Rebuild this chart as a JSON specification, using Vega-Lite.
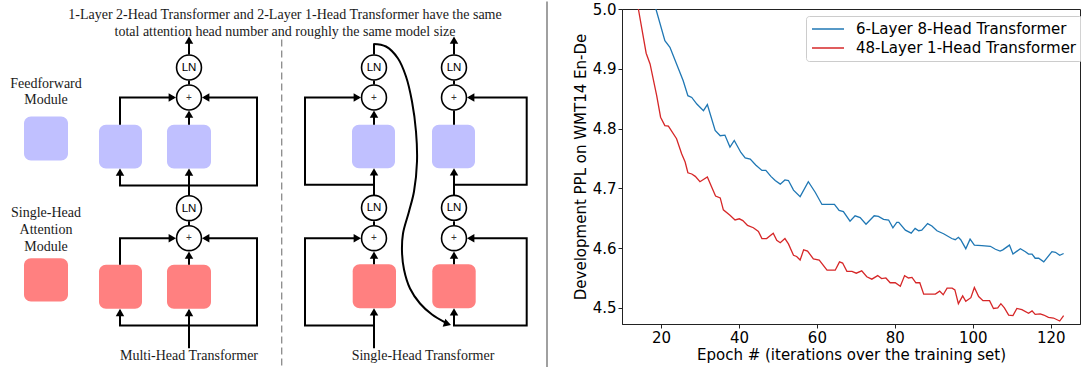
{
  "$schema": "https://vega.github.io/schema/vega-lite/v6.json",
  "padding": 0,
  "spacing": 24,
  "config": {"font": "DejaVu Sans"},
  "resolve": {"scale": {"x": "independent", "y": "independent", "color": "independent"}},
  "hconcat": [
    {
      "width": 548,
      "height": 367,
      "view": {"stroke": null},
      "layer": [
        {
          "data": {"values": [{"x": 281.7, "y": 38, "ye": 367}]},
          "mark": {"type": "rule", "color": "#8a8a8a", "strokeWidth": 1.3, "strokeDash": [7, 4]},
          "encoding": {
            "x": {"field": "x", "type": "quantitative", "scale": {"domain": [0, 548], "nice": false, "zero": false}, "axis": null},
            "y": {"field": "y", "type": "quantitative", "scale": {"domain": [7.5, 374.5], "nice": false, "zero": false, "reverse": true}, "axis": null},
            "y2": {"field": "ye"}
          }
        },
        {
          "data": {"values": [{"x": 547, "y": 0, "ye": 367}]},
          "mark": {"type": "rule", "color": "#a0a0a0", "strokeWidth": 2},
          "encoding": {
            "x": {"field": "x", "type": "quantitative", "axis": null},
            "y": {"field": "y", "type": "quantitative", "axis": null},
            "y2": {"field": "ye"}
          }
        },
        {
          "data": {"values": [
            {"kind": "ff", "x": 24, "xe": 68, "y": 115, "ye": 159},
            {"kind": "ff", "x": 99, "xe": 142, "y": 123.3, "ye": 167},
            {"kind": "ff", "x": 167, "xe": 211, "y": 123.3, "ye": 167},
            {"kind": "ff", "x": 352, "xe": 395, "y": 123.3, "ye": 166.7},
            {"kind": "ff", "x": 432, "xe": 475, "y": 123.3, "ye": 166.7},
            {"kind": "att", "x": 24, "xe": 68, "y": 256.7, "ye": 300},
            {"kind": "att", "x": 99, "xe": 142, "y": 263.3, "ye": 307.3},
            {"kind": "att", "x": 167, "xe": 211, "y": 263.3, "ye": 307.3},
            {"kind": "att", "x": 352.7, "xe": 396, "y": 262.7, "ye": 306.7},
            {"kind": "att", "x": 432.3, "xe": 475.7, "y": 262.7, "ye": 306.7}
          ]},
          "layer": [
            {
              "transform": [{"filter": "datum.kind === 'ff'"}],
              "mark": {"type": "rect", "color": "#c0c0ff", "cornerRadius": 7},
              "encoding": {
                "x": {"field": "x", "type": "quantitative", "axis": null},
                "x2": {"field": "xe"},
                "y": {"field": "y", "type": "quantitative", "axis": null},
                "y2": {"field": "ye"}
              }
            },
            {
              "transform": [{"filter": "datum.kind === 'att'"}],
              "mark": {"type": "rect", "color": "#ff8080", "cornerRadius": 7},
              "encoding": {
                "x": {"field": "x", "type": "quantitative", "axis": null},
                "x2": {"field": "xe"},
                "y": {"field": "y", "type": "quantitative", "axis": null},
                "y2": {"field": "ye"}
              }
            }
          ]
        },
        {
          "data": {"values": [
            {"p": "p1", "s": 0, "x": 189, "y": 53}, {"p": "p1", "s": 1, "x": 189, "y": 37},
            {"p": "p2", "s": 0, "x": 189, "y": 83}, {"p": "p2", "s": 1, "x": 189, "y": 79},
            {"p": "p3", "s": 0, "x": 189, "y": 123.3}, {"p": "p3", "s": 1, "x": 189, "y": 111},
            {"p": "p4", "s": 0, "x": 120, "y": 123.3}, {"p": "p4", "s": 1, "x": 120, "y": 96}, {"p": "p4", "s": 2, "x": 174, "y": 96},
            {"p": "p5", "s": 0, "x": 204, "y": 96}, {"p": "p5", "s": 1, "x": 257, "y": 96}, {"p": "p5", "s": 2, "x": 257, "y": 184}, {"p": "p5", "s": 3, "x": 120, "y": 184}, {"p": "p5", "s": 4, "x": 120, "y": 169},
            {"p": "p6", "s": 0, "x": 189, "y": 193.7}, {"p": "p6", "s": 1, "x": 189, "y": 169},
            {"p": "p7", "s": 0, "x": 189, "y": 223.7}, {"p": "p7", "s": 1, "x": 189, "y": 219.7},
            {"p": "p8", "s": 0, "x": 189, "y": 263.3}, {"p": "p8", "s": 1, "x": 189, "y": 252},
            {"p": "p9", "s": 0, "x": 120, "y": 263.3}, {"p": "p9", "s": 1, "x": 120, "y": 236.7}, {"p": "p9", "s": 2, "x": 174, "y": 236.7},
            {"p": "p10", "s": 0, "x": 204, "y": 236.7}, {"p": "p10", "s": 1, "x": 257, "y": 236.7}, {"p": "p10", "s": 2, "x": 257, "y": 324}, {"p": "p10", "s": 3, "x": 120, "y": 324}, {"p": "p10", "s": 4, "x": 120, "y": 309},
            {"p": "p11", "s": 0, "x": 189, "y": 346.7}, {"p": "p11", "s": 1, "x": 189, "y": 309},
            {"p": "q1", "s": 0, "x": 374, "y": 53}, {"p": "q1", "s": 1, "x": 374, "y": 42.5},
            {"p": "q2", "s": 0, "x": 374, "y": 83}, {"p": "q2", "s": 1, "x": 374, "y": 79},
            {"p": "q3", "s": 0, "x": 374, "y": 123.3}, {"p": "q3", "s": 1, "x": 374, "y": 111},
            {"p": "q4", "s": 0, "x": 374, "y": 193.7}, {"p": "q4", "s": 1, "x": 374, "y": 169},
            {"p": "q5", "s": 0, "x": 374, "y": 183.3}, {"p": "q5", "s": 1, "x": 305, "y": 183.3}, {"p": "q5", "s": 2, "x": 305, "y": 96}, {"p": "q5", "s": 3, "x": 359, "y": 96},
            {"p": "q6", "s": 0, "x": 374, "y": 223.7}, {"p": "q6", "s": 1, "x": 374, "y": 219.7},
            {"p": "q7", "s": 0, "x": 374, "y": 262.7}, {"p": "q7", "s": 1, "x": 374, "y": 252},
            {"p": "q8", "s": 0, "x": 374, "y": 346.7}, {"p": "q8", "s": 1, "x": 374, "y": 309},
            {"p": "q9", "s": 0, "x": 374, "y": 324}, {"p": "q9", "s": 1, "x": 305, "y": 324}, {"p": "q9", "s": 2, "x": 305, "y": 236.7}, {"p": "q9", "s": 3, "x": 359, "y": 236.7},
            {"p": "r1", "s": 0, "x": 454, "y": 53}, {"p": "r1", "s": 1, "x": 454, "y": 37},
            {"p": "r2", "s": 0, "x": 454, "y": 83}, {"p": "r2", "s": 1, "x": 454, "y": 79},
            {"p": "r3", "s": 0, "x": 454, "y": 123.3}, {"p": "r3", "s": 1, "x": 454, "y": 109},
            {"p": "r4", "s": 0, "x": 454, "y": 193.7}, {"p": "r4", "s": 1, "x": 454, "y": 169},
            {"p": "r5", "s": 0, "x": 454, "y": 183.3}, {"p": "r5", "s": 1, "x": 526.7, "y": 183.3}, {"p": "r5", "s": 2, "x": 526.7, "y": 96}, {"p": "r5", "s": 3, "x": 469, "y": 96},
            {"p": "r6", "s": 0, "x": 454, "y": 223.7}, {"p": "r6", "s": 1, "x": 454, "y": 219.7},
            {"p": "r7", "s": 0, "x": 454, "y": 262.7}, {"p": "r7", "s": 1, "x": 454, "y": 252},
            {"p": "r8", "s": 0, "x": 454, "y": 324}, {"p": "r8", "s": 1, "x": 454, "y": 309},
            {"p": "r9", "s": 0, "x": 453, "y": 324}, {"p": "r9", "s": 1, "x": 526.7, "y": 324}, {"p": "r9", "s": 2, "x": 526.7, "y": 236.7}, {"p": "r9", "s": 3, "x": 469, "y": 236.7}
          ]},
          "mark": {"type": "line", "color": "#000", "strokeWidth": 2, "strokeJoin": "miter", "strokeCap": "butt"},
          "encoding": {
            "x": {"field": "x", "type": "quantitative", "axis": null},
            "y": {"field": "y", "type": "quantitative", "axis": null},
            "detail": {"field": "p"},
            "order": {"field": "s"}
          }
        },
        {
          "data": {"values": [
            {"s": 0, "x": 373.3, "y": 42.5}, {"s": 1, "x": 386, "y": 45}, {"s": 2, "x": 398, "y": 57},
            {"s": 3, "x": 406, "y": 75}, {"s": 4, "x": 412, "y": 100}, {"s": 5, "x": 416, "y": 130},
            {"s": 6, "x": 417, "y": 160}, {"s": 7, "x": 414, "y": 190}, {"s": 8, "x": 409, "y": 210},
            {"s": 9, "x": 403, "y": 232}, {"s": 10, "x": 402, "y": 250}, {"s": 11, "x": 404, "y": 268},
            {"s": 12, "x": 410, "y": 287}, {"s": 13, "x": 420, "y": 302}, {"s": 14, "x": 432, "y": 313},
            {"s": 15, "x": 445, "y": 320.8}
          ]},
          "mark": {"type": "line", "color": "#000", "strokeWidth": 2, "interpolate": "catmull-rom"},
          "encoding": {
            "x": {"field": "x", "type": "quantitative", "axis": null},
            "y": {"field": "y", "type": "quantitative", "axis": null},
            "order": {"field": "s"}
          }
        },
        {
          "data": {"values": [
            {"dir": "up", "x": 189, "y": 35}, {"dir": "up", "x": 189, "y": 109}, {"dir": "up", "x": 120, "y": 167},
            {"dir": "up", "x": 189, "y": 167}, {"dir": "up", "x": 189, "y": 250}, {"dir": "up", "x": 120, "y": 307.3},
            {"dir": "up", "x": 189, "y": 307.3}, {"dir": "up", "x": 374, "y": 109}, {"dir": "up", "x": 374, "y": 166.7},
            {"dir": "up", "x": 374, "y": 250}, {"dir": "up", "x": 374, "y": 306.7}, {"dir": "up", "x": 454, "y": 35},
            {"dir": "up", "x": 454, "y": 166.7}, {"dir": "up", "x": 454, "y": 250}, {"dir": "up", "x": 454, "y": 306.7},
            {"dir": "right", "x": 176, "y": 96}, {"dir": "right", "x": 176, "y": 236.7},
            {"dir": "right", "x": 361, "y": 96}, {"dir": "right", "x": 361, "y": 236.7},
            {"dir": "left", "x": 202, "y": 96}, {"dir": "left", "x": 202, "y": 236.7},
            {"dir": "left", "x": 467, "y": 96}, {"dir": "left", "x": 467, "y": 236.7},
            {"dir": "curve", "x": 451, "y": 323.5}
          ]},
          "layer": [
            {
              "transform": [{"filter": "datum.dir === 'up'"}],
              "mark": {"type": "point", "shape": "triangle-up", "size": 72, "filled": true, "color": "#000", "opacity": 1, "yOffset": 3.7},
              "encoding": {"x": {"field": "x", "type": "quantitative", "axis": null}, "y": {"field": "y", "type": "quantitative", "axis": null}}
            },
            {
              "transform": [{"filter": "datum.dir === 'right'"}],
              "mark": {"type": "point", "shape": "triangle-right", "size": 72, "filled": true, "color": "#000", "opacity": 1, "xOffset": -3.7},
              "encoding": {"x": {"field": "x", "type": "quantitative", "axis": null}, "y": {"field": "y", "type": "quantitative", "axis": null}}
            },
            {
              "transform": [{"filter": "datum.dir === 'left'"}],
              "mark": {"type": "point", "shape": "triangle-left", "size": 72, "filled": true, "color": "#000", "opacity": 1, "xOffset": 3.7},
              "encoding": {"x": {"field": "x", "type": "quantitative", "axis": null}, "y": {"field": "y", "type": "quantitative", "axis": null}}
            },
            {
              "transform": [{"filter": "datum.dir === 'curve'"}],
              "mark": {"type": "point", "shape": "triangle-right", "size": 72, "filled": true, "color": "#000", "opacity": 1, "angle": 18, "xOffset": -3.5, "yOffset": -1.1},
              "encoding": {"x": {"field": "x", "type": "quantitative", "axis": null}, "y": {"field": "y", "type": "quantitative", "axis": null}}
            }
          ]
        },
        {
          "data": {"values": [
            {"t": "LN", "x": 189, "y": 66}, {"t": "+", "x": 189, "y": 96}, {"t": "LN", "x": 189, "y": 206.7}, {"t": "+", "x": 189, "y": 236.7},
            {"t": "LN", "x": 374, "y": 66}, {"t": "+", "x": 374, "y": 96}, {"t": "LN", "x": 374, "y": 206.3}, {"t": "+", "x": 374, "y": 236.7},
            {"t": "LN", "x": 454, "y": 66}, {"t": "+", "x": 454, "y": 96}, {"t": "LN", "x": 454, "y": 206.3}, {"t": "+", "x": 454, "y": 236.7}
          ]},
          "layer": [
            {
              "mark": {"type": "point", "shape": "circle", "size": 620, "filled": true, "fill": "#fff", "stroke": "#000", "strokeWidth": 1.6, "opacity": 1},
              "encoding": {"x": {"field": "x", "type": "quantitative", "axis": null}, "y": {"field": "y", "type": "quantitative", "axis": null}}
            },
            {
              "transform": [{"filter": "datum.t === 'LN'"}],
              "mark": {"type": "text", "font": "Liberation Sans", "fontSize": 11.5, "color": "#000", "align": "center", "baseline": "middle", "dy": 0.5},
              "encoding": {"x": {"field": "x", "type": "quantitative", "axis": null}, "y": {"field": "y", "type": "quantitative", "axis": null}, "text": {"field": "t"}}
            },
            {
              "transform": [{"filter": "datum.t === '+'"}],
              "mark": {"type": "text", "font": "Liberation Sans", "fontSize": 10, "color": "#333", "align": "center", "baseline": "middle"},
              "encoding": {"x": {"field": "x", "type": "quantitative", "axis": null}, "y": {"field": "y", "type": "quantitative", "axis": null}, "text": {"field": "t"}}
            }
          ]
        },
        {
          "data": {"values": [
            {"t": "1-Layer 2-Head Transformer and 2-Layer 1-Head Transformer have the same", "x": 285, "y": 17.5},
            {"t": "total attention head number and roughly the same model size", "x": 285, "y": 34.3},
            {"t": "Feedforward", "x": 46, "y": 86},
            {"t": "Module", "x": 46, "y": 102},
            {"t": "Single-Head", "x": 46, "y": 215},
            {"t": "Attention", "x": 46, "y": 232.5},
            {"t": "Module", "x": 46, "y": 249},
            {"t": "Multi-Head Transformer", "x": 189, "y": 358},
            {"t": "Single-Head Transformer", "x": 423, "y": 358}
          ]},
          "mark": {"type": "text", "font": "Liberation Serif", "fontSize": 14, "color": "#1a1a1a", "align": "center", "baseline": "alphabetic"},
          "encoding": {
            "x": {"field": "x", "type": "quantitative", "axis": null},
            "y": {"field": "y", "type": "quantitative", "axis": null},
            "text": {"field": "t"}
          }
        }
      ]
    },
    {
      "width": 458,
      "height": 315,
      "view": {"stroke": "#222", "strokeWidth": 1},
      "data": {"values": [
        {"model": "6-Layer 8-Head Transformer", "epoch": 17, "ppl": 5.04},
        {"model": "6-Layer 8-Head Transformer", "epoch": 18.7, "ppl": 5.0},
        {"model": "6-Layer 8-Head Transformer", "epoch": 21.0, "ppl": 4.947},
        {"model": "6-Layer 8-Head Transformer", "epoch": 22.3, "ppl": 4.936},
        {"model": "6-Layer 8-Head Transformer", "epoch": 25.7, "ppl": 4.88},
        {"model": "6-Layer 8-Head Transformer", "epoch": 26.9, "ppl": 4.855},
        {"model": "6-Layer 8-Head Transformer", "epoch": 27.9, "ppl": 4.852},
        {"model": "6-Layer 8-Head Transformer", "epoch": 29.2, "ppl": 4.841},
        {"model": "6-Layer 8-Head Transformer", "epoch": 30.9, "ppl": 4.83},
        {"model": "6-Layer 8-Head Transformer", "epoch": 31.9, "ppl": 4.84},
        {"model": "6-Layer 8-Head Transformer", "epoch": 33.9, "ppl": 4.797},
        {"model": "6-Layer 8-Head Transformer", "epoch": 35.2, "ppl": 4.788},
        {"model": "6-Layer 8-Head Transformer", "epoch": 36.4, "ppl": 4.789},
        {"model": "6-Layer 8-Head Transformer", "epoch": 37.7, "ppl": 4.769},
        {"model": "6-Layer 8-Head Transformer", "epoch": 38.8, "ppl": 4.78},
        {"model": "6-Layer 8-Head Transformer", "epoch": 40.5, "ppl": 4.76},
        {"model": "6-Layer 8-Head Transformer", "epoch": 41.6, "ppl": 4.751},
        {"model": "6-Layer 8-Head Transformer", "epoch": 42.9, "ppl": 4.749},
        {"model": "6-Layer 8-Head Transformer", "epoch": 44.3, "ppl": 4.739},
        {"model": "6-Layer 8-Head Transformer", "epoch": 45.9, "ppl": 4.73},
        {"model": "6-Layer 8-Head Transformer", "epoch": 46.9, "ppl": 4.73},
        {"model": "6-Layer 8-Head Transformer", "epoch": 48.2, "ppl": 4.72},
        {"model": "6-Layer 8-Head Transformer", "epoch": 49.3, "ppl": 4.713},
        {"model": "6-Layer 8-Head Transformer", "epoch": 50.6, "ppl": 4.707},
        {"model": "6-Layer 8-Head Transformer", "epoch": 51.8, "ppl": 4.714},
        {"model": "6-Layer 8-Head Transformer", "epoch": 52.7, "ppl": 4.713},
        {"model": "6-Layer 8-Head Transformer", "epoch": 54.0, "ppl": 4.697},
        {"model": "6-Layer 8-Head Transformer", "epoch": 55.7, "ppl": 4.686},
        {"model": "6-Layer 8-Head Transformer", "epoch": 57.8, "ppl": 4.711},
        {"model": "6-Layer 8-Head Transformer", "epoch": 59.6, "ppl": 4.693},
        {"model": "6-Layer 8-Head Transformer", "epoch": 61.3, "ppl": 4.673},
        {"model": "6-Layer 8-Head Transformer", "epoch": 64.5, "ppl": 4.673},
        {"model": "6-Layer 8-Head Transformer", "epoch": 65.7, "ppl": 4.663},
        {"model": "6-Layer 8-Head Transformer", "epoch": 66.8, "ppl": 4.661},
        {"model": "6-Layer 8-Head Transformer", "epoch": 68.5, "ppl": 4.645},
        {"model": "6-Layer 8-Head Transformer", "epoch": 69.8, "ppl": 4.654},
        {"model": "6-Layer 8-Head Transformer", "epoch": 71.1, "ppl": 4.651},
        {"model": "6-Layer 8-Head Transformer", "epoch": 72.6, "ppl": 4.64},
        {"model": "6-Layer 8-Head Transformer", "epoch": 74.7, "ppl": 4.654},
        {"model": "6-Layer 8-Head Transformer", "epoch": 75.8, "ppl": 4.653},
        {"model": "6-Layer 8-Head Transformer", "epoch": 77.1, "ppl": 4.648},
        {"model": "6-Layer 8-Head Transformer", "epoch": 78.4, "ppl": 4.647},
        {"model": "6-Layer 8-Head Transformer", "epoch": 79.5, "ppl": 4.634},
        {"model": "6-Layer 8-Head Transformer", "epoch": 80.5, "ppl": 4.643},
        {"model": "6-Layer 8-Head Transformer", "epoch": 81.0, "ppl": 4.643},
        {"model": "6-Layer 8-Head Transformer", "epoch": 82.7, "ppl": 4.63},
        {"model": "6-Layer 8-Head Transformer", "epoch": 84.2, "ppl": 4.625},
        {"model": "6-Layer 8-Head Transformer", "epoch": 85.2, "ppl": 4.633},
        {"model": "6-Layer 8-Head Transformer", "epoch": 86.1, "ppl": 4.629},
        {"model": "6-Layer 8-Head Transformer", "epoch": 86.9, "ppl": 4.63},
        {"model": "6-Layer 8-Head Transformer", "epoch": 88.4, "ppl": 4.641},
        {"model": "6-Layer 8-Head Transformer", "epoch": 89.5, "ppl": 4.637},
        {"model": "6-Layer 8-Head Transformer", "epoch": 90.8, "ppl": 4.629},
        {"model": "6-Layer 8-Head Transformer", "epoch": 92.5, "ppl": 4.624},
        {"model": "6-Layer 8-Head Transformer", "epoch": 94.6, "ppl": 4.616},
        {"model": "6-Layer 8-Head Transformer", "epoch": 95.5, "ppl": 4.614},
        {"model": "6-Layer 8-Head Transformer", "epoch": 96.3, "ppl": 4.618},
        {"model": "6-Layer 8-Head Transformer", "epoch": 96.9, "ppl": 4.614},
        {"model": "6-Layer 8-Head Transformer", "epoch": 98.2, "ppl": 4.599},
        {"model": "6-Layer 8-Head Transformer", "epoch": 99.3, "ppl": 4.615},
        {"model": "6-Layer 8-Head Transformer", "epoch": 100.4, "ppl": 4.605},
        {"model": "6-Layer 8-Head Transformer", "epoch": 102.3, "ppl": 4.604},
        {"model": "6-Layer 8-Head Transformer", "epoch": 104.5, "ppl": 4.603},
        {"model": "6-Layer 8-Head Transformer", "epoch": 105.8, "ppl": 4.598},
        {"model": "6-Layer 8-Head Transformer", "epoch": 107.0, "ppl": 4.595},
        {"model": "6-Layer 8-Head Transformer", "epoch": 107.7, "ppl": 4.597},
        {"model": "6-Layer 8-Head Transformer", "epoch": 109.4, "ppl": 4.605},
        {"model": "6-Layer 8-Head Transformer", "epoch": 110.3, "ppl": 4.59},
        {"model": "6-Layer 8-Head Transformer", "epoch": 112.2, "ppl": 4.599},
        {"model": "6-Layer 8-Head Transformer", "epoch": 113.5, "ppl": 4.594},
        {"model": "6-Layer 8-Head Transformer", "epoch": 114.3, "ppl": 4.59},
        {"model": "6-Layer 8-Head Transformer", "epoch": 115.2, "ppl": 4.59},
        {"model": "6-Layer 8-Head Transformer", "epoch": 116.0, "ppl": 4.583},
        {"model": "6-Layer 8-Head Transformer", "epoch": 116.9, "ppl": 4.583},
        {"model": "6-Layer 8-Head Transformer", "epoch": 118.2, "ppl": 4.577},
        {"model": "6-Layer 8-Head Transformer", "epoch": 120.3, "ppl": 4.594},
        {"model": "6-Layer 8-Head Transformer", "epoch": 121.2, "ppl": 4.593},
        {"model": "6-Layer 8-Head Transformer", "epoch": 122.3, "ppl": 4.588},
        {"model": "6-Layer 8-Head Transformer", "epoch": 123.3, "ppl": 4.591},
        {"model": "48-Layer 1-Head Transformer", "epoch": 13, "ppl": 5.045},
        {"model": "48-Layer 1-Head Transformer", "epoch": 14.2, "ppl": 5.0},
        {"model": "48-Layer 1-Head Transformer", "epoch": 16.2, "ppl": 4.926},
        {"model": "48-Layer 1-Head Transformer", "epoch": 17.2, "ppl": 4.908},
        {"model": "48-Layer 1-Head Transformer", "epoch": 18.9, "ppl": 4.855},
        {"model": "48-Layer 1-Head Transformer", "epoch": 19.9, "ppl": 4.819},
        {"model": "48-Layer 1-Head Transformer", "epoch": 21.0, "ppl": 4.805},
        {"model": "48-Layer 1-Head Transformer", "epoch": 21.9, "ppl": 4.804},
        {"model": "48-Layer 1-Head Transformer", "epoch": 24.0, "ppl": 4.783},
        {"model": "48-Layer 1-Head Transformer", "epoch": 25.3, "ppl": 4.758},
        {"model": "48-Layer 1-Head Transformer", "epoch": 26.2, "ppl": 4.744},
        {"model": "48-Layer 1-Head Transformer", "epoch": 26.9, "ppl": 4.726},
        {"model": "48-Layer 1-Head Transformer", "epoch": 27.9, "ppl": 4.724},
        {"model": "48-Layer 1-Head Transformer", "epoch": 28.8, "ppl": 4.72},
        {"model": "48-Layer 1-Head Transformer", "epoch": 30.0, "ppl": 4.711},
        {"model": "48-Layer 1-Head Transformer", "epoch": 31.9, "ppl": 4.719},
        {"model": "48-Layer 1-Head Transformer", "epoch": 33.0, "ppl": 4.702},
        {"model": "48-Layer 1-Head Transformer", "epoch": 34.0, "ppl": 4.687},
        {"model": "48-Layer 1-Head Transformer", "epoch": 35.2, "ppl": 4.684},
        {"model": "48-Layer 1-Head Transformer", "epoch": 36.0, "ppl": 4.664},
        {"model": "48-Layer 1-Head Transformer", "epoch": 37.7, "ppl": 4.655},
        {"model": "48-Layer 1-Head Transformer", "epoch": 39.0, "ppl": 4.647},
        {"model": "48-Layer 1-Head Transformer", "epoch": 40.1, "ppl": 4.649},
        {"model": "48-Layer 1-Head Transformer", "epoch": 41.0, "ppl": 4.646},
        {"model": "48-Layer 1-Head Transformer", "epoch": 42.2, "ppl": 4.638},
        {"model": "48-Layer 1-Head Transformer", "epoch": 43.7, "ppl": 4.634},
        {"model": "48-Layer 1-Head Transformer", "epoch": 45.0, "ppl": 4.628},
        {"model": "48-Layer 1-Head Transformer", "epoch": 45.9, "ppl": 4.616},
        {"model": "48-Layer 1-Head Transformer", "epoch": 47.1, "ppl": 4.616},
        {"model": "48-Layer 1-Head Transformer", "epoch": 48.8, "ppl": 4.625},
        {"model": "48-Layer 1-Head Transformer", "epoch": 49.7, "ppl": 4.613},
        {"model": "48-Layer 1-Head Transformer", "epoch": 50.6, "ppl": 4.609},
        {"model": "48-Layer 1-Head Transformer", "epoch": 51.8, "ppl": 4.616},
        {"model": "48-Layer 1-Head Transformer", "epoch": 52.7, "ppl": 4.607},
        {"model": "48-Layer 1-Head Transformer", "epoch": 54.0, "ppl": 4.588},
        {"model": "48-Layer 1-Head Transformer", "epoch": 54.8, "ppl": 4.586},
        {"model": "48-Layer 1-Head Transformer", "epoch": 55.7, "ppl": 4.58},
        {"model": "48-Layer 1-Head Transformer", "epoch": 56.6, "ppl": 4.597},
        {"model": "48-Layer 1-Head Transformer", "epoch": 57.6, "ppl": 4.595},
        {"model": "48-Layer 1-Head Transformer", "epoch": 59.1, "ppl": 4.582},
        {"model": "48-Layer 1-Head Transformer", "epoch": 60.6, "ppl": 4.58},
        {"model": "48-Layer 1-Head Transformer", "epoch": 62.6, "ppl": 4.563},
        {"model": "48-Layer 1-Head Transformer", "epoch": 64.7, "ppl": 4.563},
        {"model": "48-Layer 1-Head Transformer", "epoch": 65.8, "ppl": 4.577},
        {"model": "48-Layer 1-Head Transformer", "epoch": 66.6, "ppl": 4.575},
        {"model": "48-Layer 1-Head Transformer", "epoch": 67.7, "ppl": 4.561},
        {"model": "48-Layer 1-Head Transformer", "epoch": 69.0, "ppl": 4.561},
        {"model": "48-Layer 1-Head Transformer", "epoch": 70.1, "ppl": 4.558},
        {"model": "48-Layer 1-Head Transformer", "epoch": 71.5, "ppl": 4.562},
        {"model": "48-Layer 1-Head Transformer", "epoch": 72.8, "ppl": 4.552},
        {"model": "48-Layer 1-Head Transformer", "epoch": 74.1, "ppl": 4.548},
        {"model": "48-Layer 1-Head Transformer", "epoch": 75.6, "ppl": 4.554},
        {"model": "48-Layer 1-Head Transformer", "epoch": 76.6, "ppl": 4.549},
        {"model": "48-Layer 1-Head Transformer", "epoch": 77.7, "ppl": 4.55},
        {"model": "48-Layer 1-Head Transformer", "epoch": 78.8, "ppl": 4.542},
        {"model": "48-Layer 1-Head Transformer", "epoch": 80.1, "ppl": 4.542},
        {"model": "48-Layer 1-Head Transformer", "epoch": 81.4, "ppl": 4.536},
        {"model": "48-Layer 1-Head Transformer", "epoch": 82.5, "ppl": 4.554},
        {"model": "48-Layer 1-Head Transformer", "epoch": 83.5, "ppl": 4.55},
        {"model": "48-Layer 1-Head Transformer", "epoch": 84.4, "ppl": 4.551},
        {"model": "48-Layer 1-Head Transformer", "epoch": 85.4, "ppl": 4.542},
        {"model": "48-Layer 1-Head Transformer", "epoch": 86.4, "ppl": 4.542},
        {"model": "48-Layer 1-Head Transformer", "epoch": 87.4, "ppl": 4.523},
        {"model": "48-Layer 1-Head Transformer", "epoch": 88.7, "ppl": 4.523},
        {"model": "48-Layer 1-Head Transformer", "epoch": 90.4, "ppl": 4.523},
        {"model": "48-Layer 1-Head Transformer", "epoch": 91.5, "ppl": 4.528},
        {"model": "48-Layer 1-Head Transformer", "epoch": 92.4, "ppl": 4.522},
        {"model": "48-Layer 1-Head Transformer", "epoch": 93.4, "ppl": 4.533},
        {"model": "48-Layer 1-Head Transformer", "epoch": 94.7, "ppl": 4.533},
        {"model": "48-Layer 1-Head Transformer", "epoch": 95.4, "ppl": 4.53},
        {"model": "48-Layer 1-Head Transformer", "epoch": 96.3, "ppl": 4.507},
        {"model": "48-Layer 1-Head Transformer", "epoch": 97.4, "ppl": 4.52},
        {"model": "48-Layer 1-Head Transformer", "epoch": 98.2, "ppl": 4.511},
        {"model": "48-Layer 1-Head Transformer", "epoch": 99.5, "ppl": 4.517},
        {"model": "48-Layer 1-Head Transformer", "epoch": 100.4, "ppl": 4.534},
        {"model": "48-Layer 1-Head Transformer", "epoch": 101.5, "ppl": 4.519},
        {"model": "48-Layer 1-Head Transformer", "epoch": 102.6, "ppl": 4.512},
        {"model": "48-Layer 1-Head Transformer", "epoch": 104.3, "ppl": 4.512},
        {"model": "48-Layer 1-Head Transformer", "epoch": 105.3, "ppl": 4.499},
        {"model": "48-Layer 1-Head Transformer", "epoch": 106.4, "ppl": 4.5},
        {"model": "48-Layer 1-Head Transformer", "epoch": 107.2, "ppl": 4.507},
        {"model": "48-Layer 1-Head Transformer", "epoch": 108.1, "ppl": 4.5},
        {"model": "48-Layer 1-Head Transformer", "epoch": 109.2, "ppl": 4.488},
        {"model": "48-Layer 1-Head Transformer", "epoch": 110.3, "ppl": 4.487},
        {"model": "48-Layer 1-Head Transformer", "epoch": 111.3, "ppl": 4.499},
        {"model": "48-Layer 1-Head Transformer", "epoch": 112.6, "ppl": 4.497},
        {"model": "48-Layer 1-Head Transformer", "epoch": 114.3, "ppl": 4.491},
        {"model": "48-Layer 1-Head Transformer", "epoch": 115.2, "ppl": 4.495},
        {"model": "48-Layer 1-Head Transformer", "epoch": 116.0, "ppl": 4.489},
        {"model": "48-Layer 1-Head Transformer", "epoch": 117.3, "ppl": 4.49},
        {"model": "48-Layer 1-Head Transformer", "epoch": 118.2, "ppl": 4.488},
        {"model": "48-Layer 1-Head Transformer", "epoch": 119.4, "ppl": 4.484},
        {"model": "48-Layer 1-Head Transformer", "epoch": 120.7, "ppl": 4.483},
        {"model": "48-Layer 1-Head Transformer", "epoch": 122.3, "ppl": 4.478},
        {"model": "48-Layer 1-Head Transformer", "epoch": 123.3, "ppl": 4.487}
      ]},
      "mark": {"type": "line", "strokeWidth": 1.3, "clip": true},
      "encoding": {
        "x": {
          "field": "epoch", "type": "quantitative",
          "scale": {"domain": [10, 127.5], "nice": false, "zero": false},
          "axis": {"values": [20, 40, 60, 80, 100, 120], "title": "Epoch # (iterations over the training set)", "grid": false,
            "labelFont": "DejaVu Sans", "labelFontSize": 15, "labelColor": "#000", "titleFont": "DejaVu Sans", "titleFontSize": 15,
            "titleFontWeight": "normal", "titleColor": "#000", "tickColor": "#222", "domainColor": "#222", "tickSize": 4, "labelPadding": 2, "titlePadding": 2, "labelFlush": false}
        },
        "y": {
          "field": "ppl", "type": "quantitative",
          "scale": {"domain": [4.473, 5.0], "nice": false, "zero": false},
          "axis": {"values": [4.5, 4.6, 4.7, 4.8, 4.9, 5.0], "format": ".1f", "title": "Development PPL on WMT14 En-De", "grid": false,
            "labelFont": "DejaVu Sans", "labelFontSize": 15, "labelColor": "#000", "titleFont": "DejaVu Sans", "titleFontSize": 15,
            "titleFontWeight": "normal", "titleColor": "#000", "tickColor": "#222", "domainColor": "#222", "tickSize": 4, "labelPadding": 2, "titlePadding": 4, "labelFlush": false}
        },
        "color": {
          "field": "model", "type": "nominal",
          "scale": {"domain": ["6-Layer 8-Head Transformer", "48-Layer 1-Head Transformer"], "range": ["#1f77b4", "#d62728"]},
          "legend": {"title": null, "orient": "none", "legendX": 184, "legendY": 7, "padding": 5, "strokeColor": "#cccccc", "fillColor": "rgba(255,255,255,0.8)",
            "cornerRadius": 3, "symbolType": "stroke", "symbolSize": 1024, "symbolStrokeWidth": 1.5, "labelFont": "DejaVu Sans",
            "labelFontSize": 15, "labelColor": "#000", "labelOffset": 11, "clipHeight": 16, "rowPadding": 3, "labelLimit": 400}
        }
      }
    }
  ]
}
